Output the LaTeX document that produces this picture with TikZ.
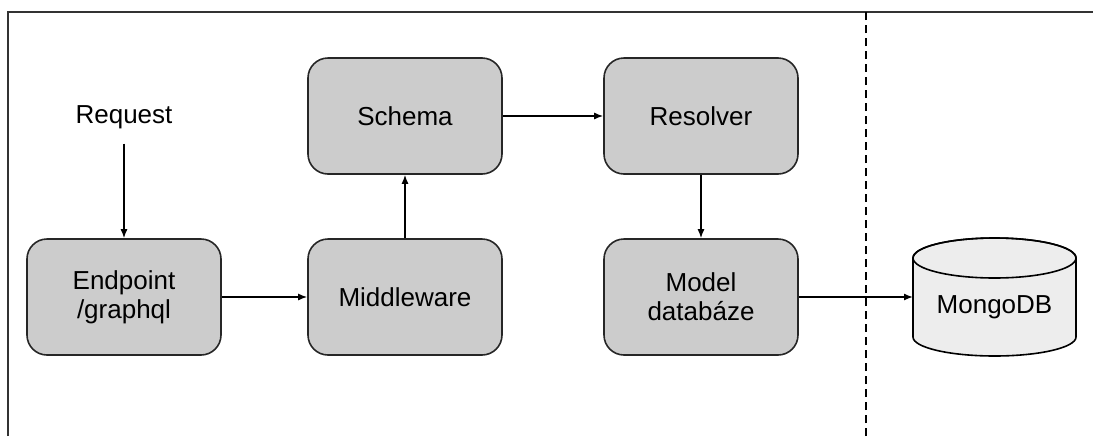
\documentclass[tikz,border=0pt]{standalone}
\usepackage{fontspec}
\setmainfont{Liberation Sans}
\usetikzlibrary{arrows.meta}

\begin{document}
\begin{tikzpicture}[x=0.5pt,y=0.5pt,
    font=\fontsize{13}{14.5}\selectfont,
    part/.style={draw=black!85,line width=0.8pt,fill=black!20,rounded corners=10pt,
      minimum width=97pt,minimum height=58pt,align=center,inner sep=0pt},
    flow/.style={-{Latex[length=4.5pt,width=3.5pt]},line width=0.7pt}]

  \useasboundingbox (0,0) rectangle (1093,436);
  % frame
  \draw[line width=0.9pt,black!80] (8,0) -- (8,424) -- (1093,424);
  \draw[dash pattern=on 4pt off 2.5pt,line width=0.9pt] (866,0) -- (866,424);

  \node (request) at (124,319) {Request};
  \node[part] (endpoint) at (124,139) {Endpoint\\/graphql};
  \node[part] (middleware) at (405,139) {Middleware};
  \node[part] (schema) at (405,320) {Schema};
  \node[part] (resolver) at (701,320) {Resolver};
  \node[part] (model) at (701,139) {Model\\databáze};

  % database
  \draw[line width=0.8pt,fill=black!7] (913,178) -- (913,99)
    arc[start angle=180,end angle=360,x radius=81.5,y radius=19] -- (1076,178)
    arc[start angle=0,end angle=180,x radius=81.5,y radius=20] -- cycle;
  \draw[line width=0.8pt] (994.5,178) ellipse[x radius=81.5,y radius=20];
  \node (mongo) at (994.5,129) {MongoDB};
  \coordinate (mongoin) at (913,139);

  \draw[flow,shorten <=4pt] (request) -- (endpoint);
  \draw[flow] (endpoint) -- (middleware);
  \draw[flow] (middleware) -- (schema);
  \draw[flow] (schema) -- (resolver);
  \draw[flow] (resolver) -- (model);
  \draw[flow] (model) -- (mongoin);
\end{tikzpicture}
\end{document}
